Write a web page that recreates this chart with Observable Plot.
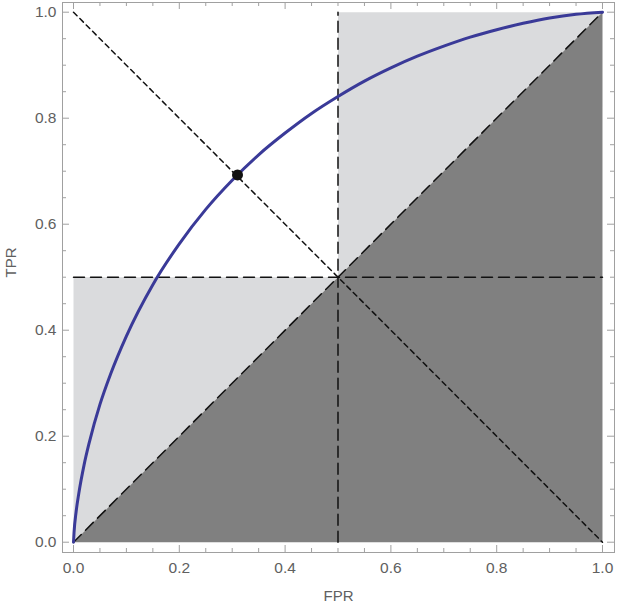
<!DOCTYPE html>
<html><head><meta charset="utf-8">
<script src="https://cdn.jsdelivr.net/npm/d3@7"></script>
<script src="https://cdn.jsdelivr.net/npm/@observablehq/plot@0.6"></script>
<style>body{margin:0;background:#fff}</style>
</head><body><div id="chart"></div>
<script>
// ROC curve points
const rocFPR = [0, 0.001, 0.005, 0.01, 0.02, 0.03, 0.05, 0.07, 0.1, 0.15, 0.2, 0.25, 0.3, 0.35, 0.4, 0.45, 0.5, 0.55, 0.6, 0.65, 0.7, 0.75, 0.8, 0.85, 0.9, 0.95, 1.0];
const rocTPR = [0, 0.018, 0.058, 0.092, 0.146, 0.189, 0.26, 0.317, 0.389, 0.486, 0.563, 0.628, 0.683, 0.731, 0.772, 0.809, 0.841, 0.87, 0.895, 0.917, 0.936, 0.953, 0.967, 0.979, 0.989, 0.996, 1.0];
const pointFPR = [0.31];
const pointTPR = [0.693];
const lightLeftX = [0, 0, 0.5];
const lightLeftY = [0, 0.5, 0.5];
const lightRightX = [0.5, 0.5, 1];
const lightRightY = [0.5, 1, 1];
const darkX = [0, 1, 1];
const darkY = [0, 0, 1];
const majorTicks = [0, 0.2, 0.4, 0.6, 0.8, 1.0];
const minorTicks = [0, 0.05, 0.1, 0.15, 0.2, 0.25, 0.3, 0.35, 0.4, 0.45, 0.5, 0.55, 0.6, 0.65, 0.7, 0.75, 0.8, 0.85, 0.9, 0.95, 1.0];
const xLabel = "FPR";
const yLabel = "TPR";

const W = 617, H = 615;
const mL = 62, mR = 3, mT = 2, mB = 63;
const xDom = [-0.0208, 1.0227], yDom = [-0.0194, 1.0183];
const pxX = (xDom[1]-xDom[0])/(W-mL-mR);
const pxY = (yDom[1]-yDom[0])/(H-mT-mB);

const roc = rocFPR.map((x,i)=>({x, y: rocTPR[i]}));
const poly = (xs, ys, g) => xs.map((x,i)=>({x, y: ys[i], g}));
const shapes = [...poly(lightLeftX, lightLeftY, "a"), ...poly(lightRightX, lightRightY, "b")];
const dark = poly(darkX, darkY, "c");
const majSet = new Set(majorTicks.map(d=>d.toFixed(2)));
const tickData = minorTicks.map(v=>({v, len: majSet.has(v.toFixed(2)) ? 7 : 4}));
const frameCol = "#a0a0a0";
const textCol = "#606060";

const plot = Plot.plot({
  width: W, height: H,
  marginLeft: mL, marginRight: mR, marginTop: mT, marginBottom: mB,
  x: {domain: xDom, axis: null},
  y: {domain: yDom, axis: null},
  style: {fontFamily: "Liberation Sans, Arial, sans-serif", background: "#fff"},
  marks: [
    Plot.line(shapes, {x: "x", y: "y", z: "g", fill: "#dadbdd", stroke: "none"}),
    Plot.line(dark, {x: "x", y: "y", fill: "#808080", stroke: "none"}),
    // dashed reference lines
    Plot.line([{x:0,y:0},{x:1,y:1}], {x:"x", y:"y", stroke:"#111", strokeWidth:1.5, strokeDasharray:"11,6"}),
    Plot.line([{x:0,y:0.5},{x:1,y:0.5}], {x:"x", y:"y", stroke:"#111", strokeWidth:1.5, strokeDasharray:"11,6"}),
    Plot.line([{x:0.5,y:0},{x:0.5,y:1}], {x:"x", y:"y", stroke:"#111", strokeWidth:1.5, strokeDasharray:"11,6"}),
    Plot.line([{x:0,y:1},{x:1,y:0}], {x:"x", y:"y", stroke:"#111", strokeWidth:1.5, strokeDasharray:"5,4"}),
    // ROC curve
    Plot.line(roc, {x:"x", y:"y", stroke:"#3a3a98", strokeWidth:3, curve:"monotone-x"}),
    Plot.dot(pointFPR.map((x,i)=>({x, y: pointTPR[i]})), {x:"x", y:"y", r:5.5, fill:"#111"}),
    // frame and inward ticks
    Plot.frame({stroke: frameCol, strokeWidth: 1}),
    Plot.ruleX(tickData, {x:"v", y1: () => yDom[0], y2: d=>yDom[0]+d.len*pxY, stroke: frameCol}),
    Plot.ruleX(tickData, {x:"v", y1: () => yDom[1], y2: d=>yDom[1]-d.len*pxY, stroke: frameCol}),
    Plot.ruleY(tickData, {y:"v", x1: () => xDom[0], x2: d=>xDom[0]+d.len*pxX, stroke: frameCol}),
    Plot.ruleY(tickData, {y:"v", x1: () => xDom[1], x2: d=>xDom[1]-d.len*pxX, stroke: frameCol}),
    // tick labels
    Plot.text(majorTicks, {x: d=>d, y: () => yDom[0], text: d=>d.toFixed(1), dy: 16, fontSize: 15.5, fill: textCol}),
    Plot.text(majorTicks, {y: d=>d, x: () => xDom[0], text: d=>d.toFixed(1), dx: -6, textAnchor: "end", fontSize: 15.5, fill: textCol}),
    // axis labels
    Plot.text([xLabel], {frameAnchor: "bottom", text: d=>d, dy: 48, fontSize: 15, fill: textCol}),
    Plot.text([yLabel], {frameAnchor: "left", text: d=>d, dx: -51, rotate: -90, fontSize: 15, fill: textCol})
  ]
});
document.getElementById("chart").appendChild(plot);
</script>
</body></html>
